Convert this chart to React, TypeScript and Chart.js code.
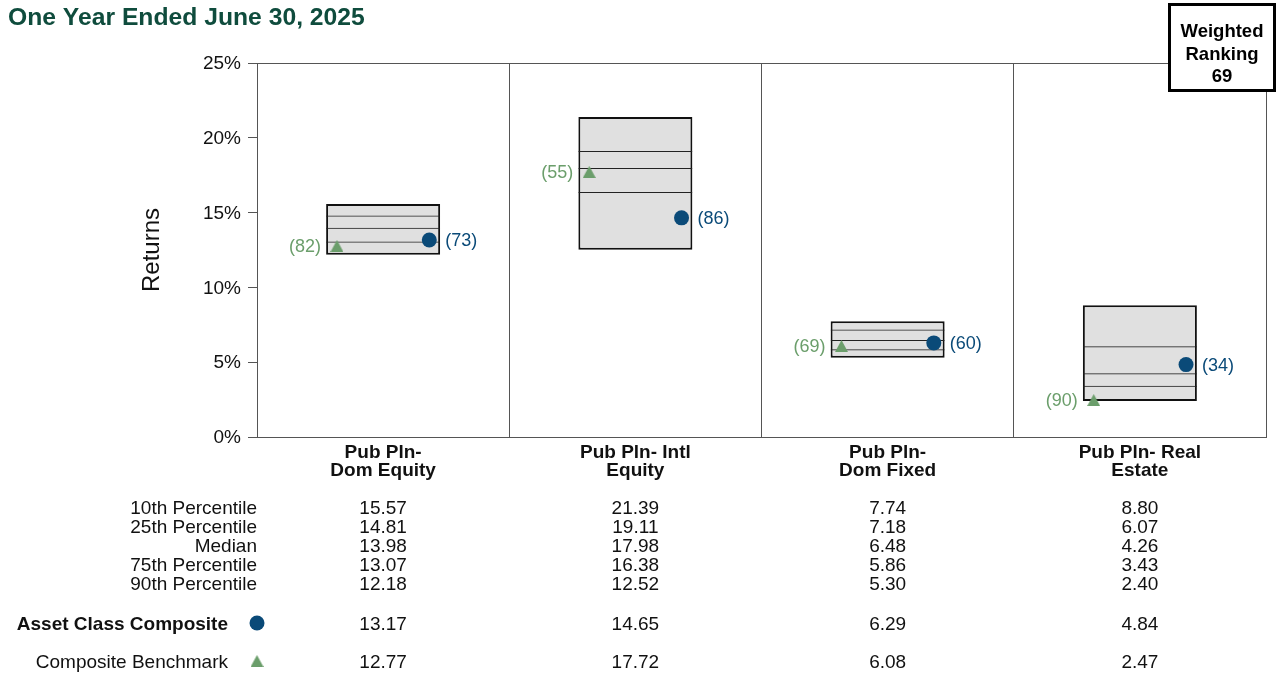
import React, { useEffect, useRef } from "react";
import { Chart, registerables } from "chart.js";

Chart.register(...registerables);

// ---- data ----
const title = "One Year Ended June 30, 2025";
const rankingLines = ["Weighted", "Ranking", "69"];
const axisTitle = "Returns";
const categories = [
  ["Pub Pln-", "Dom Equity"],
  ["Pub Pln- Intl", "Equity"],
  ["Pub Pln-", "Dom Fixed"],
  ["Pub Pln- Real", "Estate"],
];
const p10 = [15.57, 21.39, 7.74, 8.8];
const p25 = [14.81, 19.11, 7.18, 6.07];
const median = [13.98, 17.98, 6.48, 4.26];
const p75 = [13.07, 16.38, 5.86, 3.43];
const p90 = [12.18, 12.52, 5.3, 2.4];
const composite = [13.17, 14.65, 6.29, 4.84];
const compositeRank = [73, 86, 60, 34];
const benchmark = [12.77, 17.72, 6.08, 2.47];
const benchmarkRank = [82, 55, 69, 90];
const yTicks = [0, 5, 10, 15, 20, 25];
const rowLabels = ["10th Percentile", "25th Percentile", "Median", "75th Percentile", "90th Percentile"];
const compositeLabel = "Asset Class Composite";
const benchmarkLabel = "Composite Benchmark";

// ---- styles ----
const FONT = '"Liberation Sans", Arial, Helvetica, sans-serif';
const NAVY = "#0a4a78";
const GREEN = "#6b9e6b";
const TITLE_GREEN = "#0f4c3d";
const AXIS = "#555555";
const TEXT = "#111111";
const BOX_FILL = "#e0e0e0";
const POINT_OFFSET = 0.183;

function makeTriangle(): HTMLCanvasElement {
  const c = document.createElement("canvas");
  c.width = 13;
  c.height = 12;
  const g = c.getContext("2d")!;
  g.fillStyle = GREEN;
  g.beginPath();
  g.moveTo(6.5, 0);
  g.lineTo(13, 12);
  g.lineTo(0, 12);
  g.closePath();
  g.fill();
  return c;
}

export default function App() {
  const ref = useRef<HTMLCanvasElement>(null);

  useEffect(() => {
    const canvas = ref.current;
    if (!canvas) return;
    const tri = makeTriangle();
    const n = categories.length;

    const overlay = {
      id: "overlay",
      afterDatasetsDraw(chart: any) {
        const { ctx } = chart;
        ctx.save();
        ctx.font = `18px ${FONT}`;
        ctx.textBaseline = "middle";
        const cm = chart.getDatasetMeta(4);
        cm.data.forEach((pt: any, i: number) => {
          ctx.fillStyle = NAVY;
          ctx.textAlign = "left";
          ctx.fillText(`(${compositeRank[i]})`, pt.x + 16, pt.y + 1);
        });
        const bm = chart.getDatasetMeta(5);
        bm.data.forEach((pt: any, i: number) => {
          ctx.fillStyle = GREEN;
          ctx.textAlign = "right";
          ctx.fillText(`(${benchmarkRank[i]})`, pt.x - 16, pt.y + 1);
        });
        ctx.restore();
      },
      afterDraw(chart: any) {
        const { ctx, chartArea, scales } = chart;
        const xs = scales.x;
        const ys = scales.y;
        ctx.save();
        // title
        ctx.fillStyle = TITLE_GREEN;
        ctx.font = `bold 24.7px ${FONT}`;
        ctx.textAlign = "left";
        ctx.textBaseline = "alphabetic";
        ctx.fillText(title, 8, 25);

        // y tick labels
        ctx.fillStyle = TEXT;
        ctx.font = `19px ${FONT}`;
        ctx.textAlign = "right";
        ctx.textBaseline = "middle";
        ys.ticks.forEach((t: any) => {
          ctx.fillText(`${t.value}%`, chartArea.left - 16, ys.getPixelForValue(t.value) + 1);
        });

        // y axis title
        ctx.save();
        ctx.translate(152, (chartArea.top + chartArea.bottom) / 2);
        ctx.rotate(-Math.PI / 2);
        ctx.font = `24px ${FONT}`;
        ctx.fillStyle = TEXT;
        ctx.textAlign = "center";
        ctx.textBaseline = "middle";
        ctx.fillText(axisTitle, 0, 0);
        ctx.restore();

        // category labels
        ctx.fillStyle = TEXT;
        ctx.font = `bold 19px ${FONT}`;
        ctx.textAlign = "center";
        ctx.textBaseline = "alphabetic";
        categories.forEach((lines, i) => {
          const cx = xs.getPixelForValue(i);
          lines.forEach((l, j) => ctx.fillText(l, cx, chartArea.bottom + 21 + j * 17.5));
        });

        // table
        ctx.font = `19px ${FONT}`;
        const rows = [p10, p25, median, p75, p90];
        rows.forEach((row, r) => {
          const by = 514 + r * 19;
          ctx.textAlign = "right";
          ctx.fillText(rowLabels[r], chartArea.left, by);
          ctx.textAlign = "center";
          row.forEach((v, i) => ctx.fillText(v.toFixed(2), xs.getPixelForValue(i), by));
        });
        // composite / benchmark rows
        ctx.textAlign = "right";
        ctx.font = `bold 19px ${FONT}`;
        ctx.fillText(compositeLabel, 228, 630);
        ctx.font = `19px ${FONT}`;
        ctx.fillText(benchmarkLabel, 228, 668);
        ctx.textAlign = "center";
        composite.forEach((v, i) => ctx.fillText(v.toFixed(2), xs.getPixelForValue(i), 630));
        benchmark.forEach((v, i) => ctx.fillText(v.toFixed(2), xs.getPixelForValue(i), 668));
        // legend markers
        ctx.fillStyle = NAVY;
        ctx.beginPath();
        ctx.arc(chartArea.left, 623, 7.5, 0, Math.PI * 2);
        ctx.fill();
        ctx.drawImage(tri, chartArea.left - 6.5, 661 - 6);

        // weighted ranking box
        ctx.fillStyle = "#ffffff";
        ctx.fillRect(1168, 3, 108, 89);
        ctx.lineWidth = 3;
        ctx.strokeStyle = "#000000";
        ctx.strokeRect(1169.5, 4.5, 105, 86);
        ctx.fillStyle = "#000000";
        ctx.font = `bold 18.5px ${FONT}`;
        ctx.textAlign = "center";
        ctx.textBaseline = "alphabetic";
        rankingLines.forEach((l, j) => ctx.fillText(l, 1222, 37 + j * 22.5));
        ctx.restore();
      },
    };

    const barCommon = {
      type: "bar" as const,
      borderSkipped: false,
      grouped: false,
      barPercentage: 0.452,
      categoryPercentage: 1,
    };

    const lineDataset = (vals: number[]) => ({
      ...barCommon,
      data: vals.map((v, i) => ({ x: i, y: [p90[i], v] })),
      backgroundColor: "rgba(0,0,0,0)",
      borderColor: "#222222",
      borderWidth: { top: 1, right: 0, bottom: 0, left: 0 },
      order: 2,
    });

    const chart = new Chart(canvas, {
      type: "bar",
      data: {
        datasets: [
          {
            ...barCommon,
            data: p10.map((v, i) => ({ x: i, y: [p90[i], v] })),
            backgroundColor: BOX_FILL,
            borderColor: "#111111",
            borderWidth: 2,
            order: 3,
          } as any,
          lineDataset(p75) as any,
          lineDataset(median) as any,
          lineDataset(p25) as any,
          {
            type: "scatter",
            data: composite.map((v, i) => ({ x: i + POINT_OFFSET, y: v })),
            pointStyle: "circle",
            pointRadius: 7.5,
            pointBackgroundColor: NAVY,
            pointBorderWidth: 0,
            order: 1,
          } as any,
          {
            type: "scatter",
            data: benchmark.map((v, i) => ({ x: i - POINT_OFFSET, y: v })),
            pointStyle: tri,
            pointRadius: 7,
            order: 1,
          } as any,
        ],
      },
      options: {
        responsive: false,
        animation: false,
        devicePixelRatio: 1,
        events: [],
        layout: { padding: { left: 257, right: 17, top: 63, bottom: 237 } },
        plugins: {
          legend: { display: false },
          tooltip: { enabled: false },
          title: { display: false },
        },
        scales: {
          x: {
            type: "linear",
            min: -0.5,
            max: n - 0.5,
            offset: false,
            afterBuildTicks: (s: any) => {
              s.ticks = Array.from({ length: n + 1 }, (_, k) => ({ value: k - 0.5 }));
            },
            grid: { offset: false, color: AXIS, lineWidth: 1, drawTicks: false },
            border: { display: true, color: AXIS, width: 1 },
            ticks: { display: false },
            afterFit: (s: any) => {
              s.height = 0;
            },
          },
          y: {
            type: "linear",
            min: yTicks[0],
            max: yTicks[yTicks.length - 1],
            afterBuildTicks: (s: any) => {
              s.ticks = yTicks.map((v) => ({ value: v }));
            },
            grid: {
              color: (c: any) =>
                c.tick && (c.tick.value === yTicks[yTicks.length - 1] || c.tick.value === 0) ? AXIS : "rgba(0,0,0,0)",
              tickColor: AXIS,
              tickLength: 9,
              lineWidth: 1,
              drawTicks: true,
            },
            border: { display: true, color: AXIS, width: 1 },
            ticks: { display: false },
            afterFit: (s: any) => {
              s.width = 0;
            },
          },
        },
      } as any,
      plugins: [overlay],
    });

    return () => chart.destroy();
  }, []);

  return (
    <div style={{ position: "fixed", left: 0, top: 0, width: 1283, height: 674, background: "#ffffff" }}>
      <canvas ref={ref} width={1283} height={674} style={{ display: "block", width: 1283, height: 674 }} />
    </div>
  );
}
